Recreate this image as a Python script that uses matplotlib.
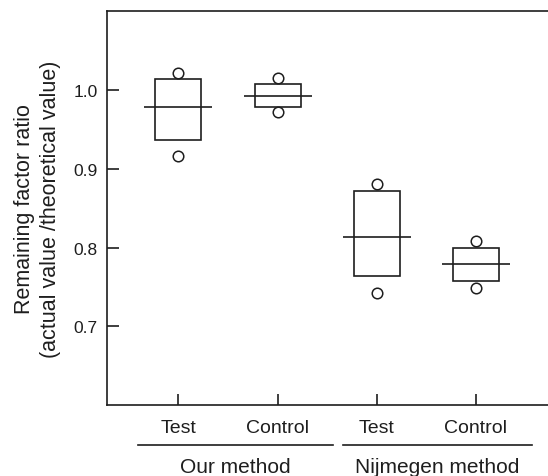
import matplotlib
matplotlib.use("Agg")
import matplotlib.pyplot as plt
import numpy as np

plt.rcParams["font.family"] = ["Liberation Sans", "DejaVu Sans"]

# Data
categories = ["Test", "Control", "Test", "Control"]
groups = ["Our method", "Nijmegen method"]
box_low = [0.936, 0.979, 0.764, 0.757]
box_high = [1.014, 1.008, 0.872, 0.800]
median = [0.979, 0.993, 0.814, 0.779]
point_high = [1.022, 1.015, 0.881, 0.808]
point_low = [0.916, 0.972, 0.742, 0.749]
y_ticks = [0.7, 0.8, 0.9, 1.0]

ink = "#1e1e1e"
x = np.arange(1, len(categories) + 1)
low = np.array(box_low)
high = np.array(box_high)

fig = plt.figure(figsize=(5.48, 4.77), dpi=100)
ax = fig.add_axes([0.1947, 0.1488, 0.8053, 0.8254])

# Boxes, median lines and the two circles
ax.bar(x, high - low, bottom=low, width=0.463, fill=False,
       edgecolor=ink, linewidth=1.2, zorder=2)
ax.hlines(median, x - 0.343, x + 0.343, color=ink, linewidth=1.2, zorder=3)
for pts in (point_high, point_low):
    ax.plot(x, pts, "o", ms=7.6, mfc="white", mec=ink, mew=1.1,
            linestyle="none", zorder=4)

ax.set_xlim(0.278, 4.726)
ax.set_ylim(0.6, 1.1)
ax.set_yticks(y_ticks)
ax.set_yticklabels([f"{v:.1f}" for v in y_ticks])
ax.set_xticks(x)
ax.set_xticklabels(categories)

for side in ["left", "bottom", "top"]:
    ax.spines[side].set_color(ink)
    ax.spines[side].set_linewidth(1.2)
ax.spines["right"].set_visible(False)

ax.tick_params(axis="y", direction="in", length=8.5, width=1.2,
               color=ink, labelsize=12.5, pad=6.5, labelcolor=ink)
ax.tick_params(axis="x", direction="in", length=8, width=1.2,
               color=ink, labelsize=14, pad=10, labelcolor=ink)

ax.set_ylabel("Remaining factor ratio\n(actual value /theoretical value)",
              fontsize=15.5, color=ink, labelpad=9, linespacing=1.3)

# Group underlines and labels below the tick labels
group_spans = [(0.594, 2.559), (2.66, 4.565)]
trans = ax.get_xaxis_transform()
for (x0, x1), name in zip(group_spans, groups):
    ax.plot([x0, x1], [-0.1016, -0.1016], color=ink, linewidth=1.2,
            transform=trans, clip_on=False)
    ax.text((x0 + x1) / 2, -0.155, name, transform=trans, ha="center",
            va="center", fontsize=15, color=ink)

fig.savefig("out.png", dpi=100)
